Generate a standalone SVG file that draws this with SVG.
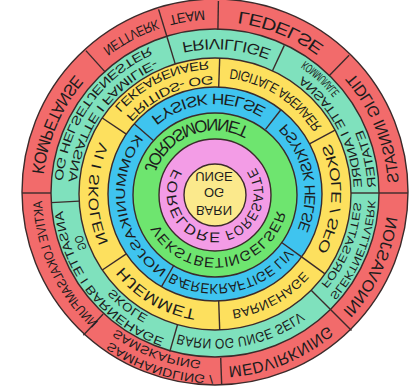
<svg xmlns="http://www.w3.org/2000/svg" width="411" height="386" viewBox="0 0 411 386">
<style>
.ln{stroke:#3b2b2b;stroke-width:1.4;fill:none}
.rg{stroke:#3b2b2b;stroke-width:1.4}
text{font-family:"Liberation Sans",Arial,Helvetica,sans-serif;fill:#1c1c1c;text-anchor:middle}
</style>
<defs>
<path id="a184" d="M215,10 A184,184 0 1 0 215,378 A184,184 0 1 0 215,10"/>
<path id="a161" d="M215,33 A161,161 0 1 0 215,355 A161,161 0 1 0 215,33"/>
<path id="a155" d="M215,39 A155,155 0 1 0 215,349 A155,155 0 1 0 215,39"/>
<path id="a147" d="M215,47 A147,147 0 1 0 215,341 A147,147 0 1 0 215,47"/>
<path id="a133" d="M215,61 A133,133 0 1 0 215,327 A133,133 0 1 0 215,61"/>
<path id="a126" d="M215,68 A126,126 0 1 0 215,320 A126,126 0 1 0 215,68"/>
<path id="a118" d="M215,76 A118,118 0 1 0 215,312 A118,118 0 1 0 215,76"/>
<path id="a100" d="M215,94 A100,100 0 1 0 215,294 A100,100 0 1 0 215,94"/>
<path id="a75" d="M215,119 A75,75 0 1 0 215,269 A75,75 0 1 0 215,119"/>
<path id="c181" d="M215,375 A181,181 0 1 1 215,13 A181,181 0 1 1 215,375"/>
<path id="c173" d="M215,367 A173,173 0 1 1 215,21 A173,173 0 1 1 215,367"/>
<path id="c167" d="M215,361 A167,167 0 1 1 215,27 A167,167 0 1 1 215,361"/>
<path id="c153" d="M215,347 A153,153 0 1 1 215,41 A153,153 0 1 1 215,347"/>
<path id="c145" d="M215,339 A145,145 0 1 1 215,49 A145,145 0 1 1 215,339"/>
<path id="c139" d="M215,333 A139,139 0 1 1 215,55 A139,139 0 1 1 215,333"/>
<path id="c117" d="M215,311 A117,117 0 1 1 215,77 A117,117 0 1 1 215,311"/>
<path id="c90" d="M215,284 A90,90 0 1 1 215,104 A90,90 0 1 1 215,284"/>
<path id="c64" d="M215,258 A64,64 0 1 1 215,130 A64,64 0 1 1 215,258"/>
<path id="c38" d="M215,232.5 A38.5,38.5 0 1 1 215,155.5 A38.5,38.5 0 1 1 215,232.5"/>
</defs>
<rect width="411" height="386" fill="#ffffff"/>
<g id="rings">
<circle id="ring-red" cx="215" cy="192" r="193" fill="#f26b6b" class="rg"/>
<circle id="ring-teal" cx="215" cy="193" r="164" fill="#7fe1bd" class="rg"/>
<circle id="ring-yellow" cx="215" cy="194" r="136" fill="#fde05e" class="rg"/>
<circle id="ring-blue" cx="215" cy="194" r="107" fill="#3fc4ef" class="rg"/>
<circle id="ring-green" cx="215" cy="195" r="82" fill="#6ee56f" class="rg"/>
<circle id="ring-pink" cx="215" cy="195" r="56" fill="#f39ce6" class="rg"/>
<circle id="core" cx="215" cy="195" r="31" fill="#fbe98c" class="rg"/>
</g>
<g id="dividers" class="ln">
<line x1="217.9" y1="30" x2="218.4" y2="1"/>
<line x1="167.1" y1="37.2" x2="158.6" y2="9.4"/>
<line x1="105.3" y1="72.1" x2="85.9" y2="50.6"/>
<line x1="51" y1="193" x2="22" y2="193"/>
<line x1="103.2" y1="313.9" x2="83.4" y2="335.2"/>
<line x1="220.7" y1="357.9" x2="221.7" y2="385"/>
<line x1="331" y1="310" x2="351.5" y2="330.5"/>
<line x1="379" y1="193" x2="408" y2="193"/>
<line x1="328.9" y1="76" x2="349.1" y2="55.2"/>
<line x1="175.2" y1="63.9" x2="167.1" y2="37.2"/>
<line x1="272.5" y1="70.7" x2="284.3" y2="45.4"/>
<line x1="351" y1="193" x2="379" y2="193"/>
<line x1="311.2" y1="290.2" x2="331" y2="310"/>
<line x1="177.5" y1="324.7" x2="169.8" y2="351.6"/>
<line x1="79.2" y1="201.1" x2="51.2" y2="202.6"/>
<line x1="126.3" y1="134.2" x2="102.3" y2="118"/>
<line x1="218.7" y1="87.1" x2="219.7" y2="58.1"/>
<line x1="309.5" y1="143.8" x2="335.1" y2="130.2"/>
<line x1="301.6" y1="256.9" x2="325" y2="273.9"/>
<line x1="218.7" y1="300.9" x2="219.7" y2="329.9"/>
<line x1="126.3" y1="253.8" x2="102.3" y2="270"/>
<line x1="153.1" y1="140.2" x2="134.2" y2="123.8"/>
<line x1="265.5" y1="129.4" x2="280.9" y2="109.7"/>
<line x1="281.3" y1="242.2" x2="301.6" y2="256.9"/>
<line x1="174" y1="265" x2="161.5" y2="286.7"/>
</g>
<g id="labels" transform="matrix(1 0 0 -1 0 388)">
<g id="red-labels">
<text font-size="14"><textPath href="#a184" startOffset="47.5%" textLength="37" lengthAdjust="spacingAndGlyphs">TEAM</textPath></text>
<text font-size="17"><textPath href="#a184" startOffset="56.11%" textLength="93" lengthAdjust="spacingAndGlyphs">LEDELSE</textPath></text>
<text font-size="16"><textPath href="#a184" startOffset="68.75%" textLength="121" lengthAdjust="spacingAndGlyphs">TIDLIG INNSATS</textPath></text>
<text font-size="16"><textPath href="#c173" startOffset="68.06%" textLength="106" lengthAdjust="spacingAndGlyphs">INNOVASJON</textPath></text>
<text font-size="16"><textPath href="#c173" startOffset="56.25%" textLength="109" lengthAdjust="spacingAndGlyphs">MEDVIRKNING</textPath></text>
<text font-size="12"><textPath href="#c181" startOffset="45%" textLength="110" lengthAdjust="spacingAndGlyphs">SAMHANDLING /</textPath></text>
<text font-size="12"><textPath href="#c167" startOffset="44.31%" textLength="92" lengthAdjust="spacingAndGlyphs">SAMSKAPING</textPath></text>
<text font-size="13"><textPath href="#c173" startOffset="31.94%" textLength="137" lengthAdjust="spacingAndGlyphs">AKTIVE LOKALSAMFUNN</textPath></text>
<text font-size="17"><textPath href="#a184" startOffset="31.53%" textLength="109" lengthAdjust="spacingAndGlyphs">KOMPETANSE</textPath></text>
<text font-size="14"><textPath href="#a184" startOffset="42.22%" textLength="62" lengthAdjust="spacingAndGlyphs">NETTVERK</textPath></text>
</g>
<g id="teal-labels">
<text font-size="12"><textPath href="#a147" startOffset="34.86%" textLength="157" lengthAdjust="spacingAndGlyphs">ANSATTE I FAMILIE-</textPath></text>
<text font-size="12"><textPath href="#a161" startOffset="34.86%" textLength="172" lengthAdjust="spacingAndGlyphs">OG HELSETJENESTER</textPath></text>
<text font-size="15"><textPath href="#a155" startOffset="51.25%" textLength="92" lengthAdjust="spacingAndGlyphs">FRIVILLIGE</textPath></text>
<text font-size="12"><textPath href="#a147" startOffset="67.22%" textLength="130" lengthAdjust="spacingAndGlyphs">ANSATTE I ANDRE</textPath></text>
<text font-size="12"><textPath href="#a161" startOffset="61.81%" textLength="47" lengthAdjust="spacingAndGlyphs">KOMMUNALE</textPath></text>
<text font-size="12"><textPath href="#a161" startOffset="71.39%" textLength="60" lengthAdjust="spacingAndGlyphs">ETATER</textPath></text>
<text font-size="11"><textPath href="#c153" startOffset="68.9%" textLength="105" lengthAdjust="spacingAndGlyphs">SLEKTNETTVERK</textPath></text>
<text font-size="11"><textPath href="#c139" startOffset="68.9%" textLength="90" lengthAdjust="spacingAndGlyphs">FORESATTES</textPath></text>
<text font-size="14"><textPath href="#c145" startOffset="52.92%" textLength="128" lengthAdjust="spacingAndGlyphs">BARN OG UNGE SELV</textPath></text>
<text font-size="12"><textPath href="#c153" startOffset="35.69%" textLength="172" lengthAdjust="spacingAndGlyphs">ANSATTE I BARNEHAGE</textPath></text>
<text font-size="12"><textPath href="#c139" startOffset="30.56%" textLength="15" lengthAdjust="spacingAndGlyphs">OG</textPath></text>
<text font-size="12"><textPath href="#c139" startOffset="39.44%" textLength="45" lengthAdjust="spacingAndGlyphs">SKOLE</textPath></text>
</g>
<g id="yellow-labels">
<text font-size="12"><textPath href="#a133" startOffset="42.78%" textLength="108" lengthAdjust="spacingAndGlyphs">LEKEARENAER</textPath></text>
<text font-size="12"><textPath href="#a118" startOffset="43.06%" textLength="99" lengthAdjust="spacingAndGlyphs">FRITIDS- OG</textPath></text>
<text font-size="14"><textPath href="#a126" startOffset="59.03%" textLength="112" lengthAdjust="spacingAndGlyphs">DIGITALE ARENAER</textPath></text>
<text font-size="14"><textPath href="#a126" startOffset="75.69%" textLength="116" lengthAdjust="spacingAndGlyphs">SKOLE / SFO</textPath></text>
<text font-size="13"><textPath href="#c117" startOffset="57.92%" textLength="83" lengthAdjust="spacingAndGlyphs">BARNEHAGE</textPath></text>
<text font-size="15"><textPath href="#c117" startOffset="41.53%" textLength="87" lengthAdjust="spacingAndGlyphs">HJEMMET</textPath></text>
<text font-size="14"><textPath href="#c117" startOffset="25%" textLength="100" lengthAdjust="spacingAndGlyphs">VI I SKOLEN</textPath></text>
</g>
<g id="blue-labels">
<text font-size="15"><textPath href="#a100" startOffset="48.75%" textLength="124" lengthAdjust="spacingAndGlyphs">FYSISK HELSE</textPath></text>
<text font-size="15"><textPath href="#a100" startOffset="71.94%" textLength="119" lengthAdjust="spacingAndGlyphs">PSYKISK HELSE</textPath></text>
<text font-size="14"><textPath href="#c90" startOffset="53.33%" textLength="128" lengthAdjust="spacingAndGlyphs">BÆREKRAFTIGE LIV</textPath></text>
<text font-size="13"><textPath href="#c90" startOffset="27.78%" textLength="150" lengthAdjust="spacingAndGlyphs">KOMMUNIKASJON</textPath></text>
</g>
<g id="green-labels">
<text font-size="17"><textPath href="#a75" startOffset="44.03%" textLength="129" lengthAdjust="spacingAndGlyphs">JORDSMONNET</textPath></text>
<text font-size="14"><textPath href="#c64" startOffset="51.81%" textLength="153" lengthAdjust="spacingAndGlyphs">VEKSTBETINGELSER</textPath></text>
</g>
<g id="pink-labels">
<text font-size="14"><textPath href="#c38" startOffset="33.89%" textLength="88" lengthAdjust="spacingAndGlyphs">FORELDRE</textPath></text>
<text font-size="14"><textPath href="#c38" startOffset="69.31%" textLength="74" lengthAdjust="spacingAndGlyphs">FORESATTE</textPath></text>
</g>
<g id="core-labels" font-size="13">
<text x="214" y="181.7">BARN</text>
<text x="214" y="199.7">OG</text>
<text x="214" y="215.7">UNGE</text>
</g>
</g>
</svg>
